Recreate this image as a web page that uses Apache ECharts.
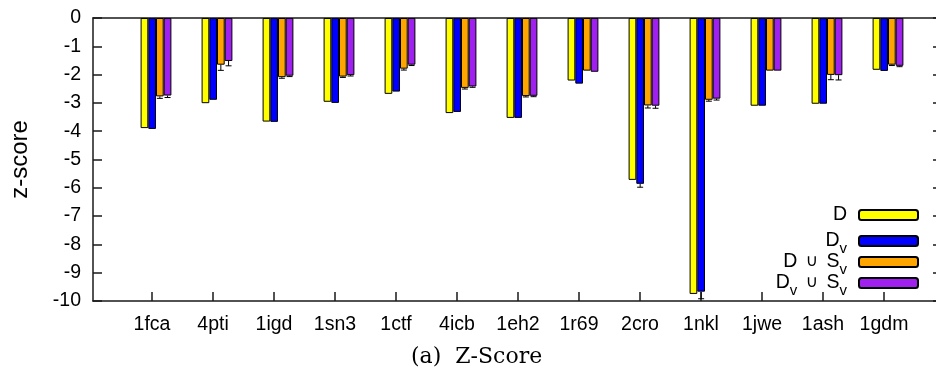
<!DOCTYPE html>
<html>
<head>
<meta charset="utf-8">
<script src="https://cdn.jsdelivr.net/npm/echarts@6/dist/echarts.min.js"></script>
<style>
html,body{margin:0;padding:0;background:#fff;}
#c{width:936px;height:370px;}
</style>
</head>
<body>
<div id="c"></div>
<script>
// ---- data ----
const categories = ['1fca','4pti','1igd','1sn3','1ctf','4icb','1eh2','1r69','2cro','1nkl','1jwe','1ash','1gdm'];
const seriesNames = ['D','Dv','D∪Sv','Dv∪Sv'];
const dVals   = [-3.89,-3.01,-3.66,-2.96,-2.68,-3.36,-3.53,-2.21,-5.72,-9.75,-3.10,-3.03,-1.83];
const dvVals  = [-3.92,-2.89,-3.67,-3.00,-2.60,-3.32,-3.53,-2.32,-5.86,-9.67,-3.10,-3.03,-1.87];
const dsVals  = [-2.77,-1.65,-2.09,-2.07,-1.79,-2.47,-2.76,-1.86,-3.09,-2.89,-1.86,-2.01,-1.65];
const dvsVals = [-2.74,-1.52,-2.04,-2.02,-1.65,-2.42,-2.75,-1.90,-3.10,-2.85,-1.86,-2.02,-1.69];
const dErr    = [0,0,0,0,0,0,0,0,0,0,0,0,0];
const dvErr   = [0,0,0,0,0,0,0,0,0.12,0.25,0,0,0];
const dsErr   = [0.07,0.20,0.04,0.03,0.05,0.04,0.03,0,0.09,0.05,0,0.17,0.03];
const dvsErr  = [0.07,0.17,0.03,0.03,0.03,0.03,0.03,0,0.09,0.05,0,0.17,0.03];
const yTicks  = [0,-1,-2,-3,-4,-5,-6,-7,-8,-9,-10];

// ---- styling / layout ----
const colors = ['#ffff00','#0000ff','#ffa500','#a020f0'];
const allVals = [dVals, dvVals, dsVals, dvsVals];
const allErr = [dErr, dvErr, dsErr, dvsErr];
const BAR_W = 7.7;
const AX = '#1a1a1a';
const legendRich = {
  m: {fontSize: 19.5, lineHeight: 28, color: '#000', fontFamily: 'Liberation Sans'},
  c: {fontSize: 17, lineHeight: 28, color: '#000', fontFamily: 'DejaVu Sans', padding: [0,3,0,3]},
  s: {fontSize: 15, lineHeight: 14, padding: [15,0,0,0], color: '#000', fontFamily: 'Liberation Sans'}
};
const legendLabels = {
  'D': '{m|D}',
  'Dv': '{m|D}{s|v}',
  'D∪Sv': '{m|D }{c|∪}{m| S}{s|v}',
  'Dv∪Sv': '{m|D}{s|v}{m| }{c|∪}{m| S}{s|v}'
};
const legendTops = [205, 226, 247, 268];

const errData = [];
allErr.forEach((arr, si) => arr.forEach((e, ci) => {
  if (e > 0) errData.push([ci, allVals[si][ci], e, si]);
}));

const chart = echarts.init(document.getElementById('c'), null, {renderer: 'canvas'});
const option = {
  animation: false,
  backgroundColor: '#fff',
  textStyle: {fontFamily: 'Liberation Sans'},
  title: {
    text: '(a)  Z-Score',
    left: 411, top: 346,
    padding: 0,
    textStyle: {fontFamily: 'DejaVu Serif', fontSize: 22, fontWeight: 'normal', color: '#000'}
  },
  grid: [
    {left: 91, right: 0, top: 18, bottom: 69},
    {left: 125.5, right: 17.5, top: 18, bottom: 69},
    {left: 121.5, right: 21.5, top: 18, bottom: 69}
  ],
  legend: seriesNames.map((n, i) => ({
    data: [n],
    orient: 'vertical',
    right: 17,
    top: legendTops[i],
    padding: 0,
    align: 'right',
    itemWidth: 59,
    itemHeight: 10,
    selectedMode: false,
    formatter: name => legendLabels[name],
    textStyle: {rich: legendRich, padding: [0,7,0,0]}
  })),
  xAxis: [
    {gridIndex: 0, type: 'value', min: 0, max: 1, position: 'bottom',
      axisLine: {show: true, onZero: false, lineStyle: {color: AX, width: 1.5}},
      axisTick: {show: false}, axisLabel: {show: false}, splitLine: {show: false}},
    {gridIndex: 0, type: 'value', min: 0, max: 1, position: 'top',
      axisLine: {show: true, onZero: false, lineStyle: {color: AX, width: 1.5}},
      axisTick: {show: false}, axisLabel: {show: false}, splitLine: {show: false}},
    {gridIndex: 1, type: 'category', data: categories, show: false, axisLine: {onZero: false}},
    {gridIndex: 2, type: 'category', data: categories, position: 'bottom',
      axisLine: {show: false, onZero: false},
      axisTick: {show: true, inside: true, length: 9, alignWithLabel: true, lineStyle: {color: AX, width: 1.5}},
      axisLabel: {show: true, interval: 0, color: '#000', fontSize: 19.5, margin: 14, fontFamily: 'Liberation Sans'},
      splitLine: {show: false}}
  ],
  yAxis: [
    {gridIndex: 0, type: 'value', min: -10, max: 0, interval: 1, position: 'left',
      name: 'z-score', nameLocation: 'middle', nameRotate: 90, nameGap: 61,
      nameTextStyle: {fontSize: 24, color: '#000', fontFamily: 'Liberation Sans'},
      axisLine: {show: true, onZero: false, lineStyle: {color: AX, width: 1.5}},
      axisTick: {show: true, inside: true, length: 9, lineStyle: {color: AX, width: 1.5}},
      axisLabel: {color: '#000', fontSize: 19.5, margin: 12, fontFamily: 'Liberation Sans',
        customValues: yTicks, formatter: v => String(v)},
      splitLine: {show: false}},
    {gridIndex: 0, type: 'value', min: -10, max: 0, interval: 1, position: 'right',
      axisLine: {show: false, onZero: false},
      axisTick: {show: true, inside: true, length: 3, lineStyle: {color: AX, width: 1.5}},
      axisLabel: {show: false}, splitLine: {show: false}},
    {gridIndex: 1, type: 'value', min: -10, max: 0, show: false},
    {gridIndex: 2, type: 'value', min: -10, max: 0, show: false}
  ],
  series: seriesNames.map((n, i) => ({
    name: n,
    type: 'bar',
    xAxisIndex: 2,
    yAxisIndex: 2,
    data: allVals[i],
    barWidth: BAR_W,
    barGap: '0%',
    itemStyle: {color: colors[i], borderColor: '#000', borderWidth: 1},
    emphasis: {disabled: true}
  })).concat([{
    type: 'custom',
    xAxisIndex: 2,
    yAxisIndex: 2,
    data: errData,
    z: 5,
    silent: true,
    renderItem: (params, api) => {
      const ci = api.value(0), v = api.value(1), e = api.value(2), si = api.value(3);
      const p0 = api.coord([ci, v]);
      const p1 = api.coord([ci, v - e]);
      const x = p0[0] + (si - 1.5) * BAR_W;
      const st = {stroke: '#000', lineWidth: 1};
      return {type: 'group', children: [
        {type: 'line', shape: {x1: x, y1: p0[1], x2: x, y2: p1[1]}, style: st},
        {type: 'line', shape: {x1: x - 3, y1: p1[1], x2: x + 3, y2: p1[1]}, style: st}
      ]};
    }
  }])
};
chart.setOption(option);
</script>
</body>
</html>
